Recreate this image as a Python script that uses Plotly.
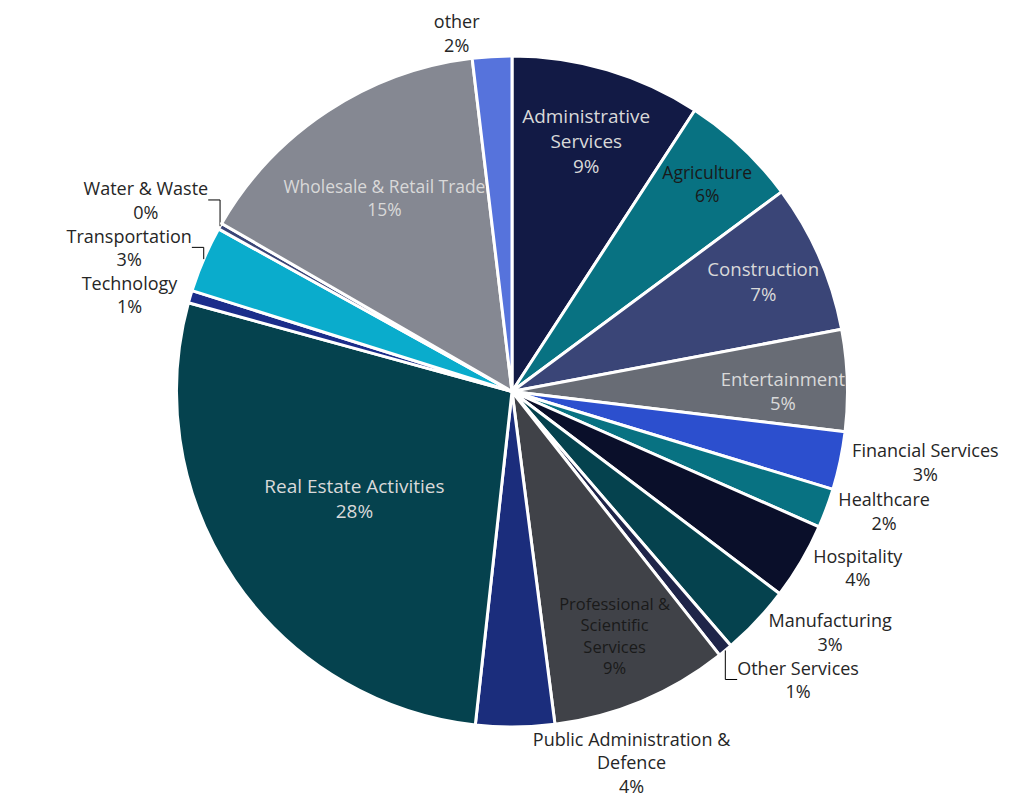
import plotly.graph_objects as go

categories = [
    "Administrative Services", "Agriculture", "Construction", "Entertainment",
    "Financial Services", "Healthcare", "Hospitality", "Manufacturing",
    "Other Services", "Professional & Scientific Services",
    "Public Administration & Defence", "Real Estate Activities", "Technology",
    "Transportation", "Water & Waste", "Wholesale & Retail Trade", "other",
]
display_labels = [
    "Administrative<br>Services", "Agriculture", "Construction", "Entertainment",
    "Financial Services", "Healthcare", "Hospitality", "Manufacturing",
    "Other Services", "Professional &<br>Scientific<br>Services",
    "Public Administration &<br>Defence", "Real Estate Activities", "Technology",
    "Transportation", "Water & Waste", "Wholesale & Retail Trade", "other",
]
values = [9.2, 5.7, 7.2, 4.9, 2.8, 1.9, 3.7, 3.4, 0.7, 8.6, 3.8, 27.6, 0.6, 3.2, 0.3, 14.8, 1.9]

colors = [
    "#121a45", "#087282", "#3a4577", "#686c75", "#2c4fce", "#087282", "#0a0f2a",
    "#05424e", "#1f2549", "#404248", "#1b2d7c", "#05424e", "#1b2d8a", "#0aaccc",
    "#3a4577", "#858892", "#5673dc",
]
positions = [
    "inside", "inside", "inside", "inside", "outside", "outside", "outside",
    "outside", "outside", "inside", "outside", "inside", "outside", "outside",
    "outside", "inside", "outside",
]
text_colors = [
    "#d9d9d9", "#1a1a1a", "#d9d9d9", "#d9d9d9", "#262626", "#262626", "#262626",
    "#262626", "#262626", "#1a1a1a", "#262626", "#d9d9d9", "#262626", "#262626",
    "#262626", "#d9d9d9", "#262626",
]
text_sizes = [19 if p == "inside" else 18 for p in positions]

fig = go.Figure(go.Pie(
    labels=categories,
    values=values,
    text=display_labels,
    texttemplate="%{text}<br>%{percent:.0%}",
    textposition=positions,
    textfont=dict(family="Open Sans", size=text_sizes, color=text_colors),
    insidetextorientation="horizontal",
    marker=dict(colors=colors, line=dict(color="white", width=3)),
    sort=False,
    direction="clockwise",
    rotation=0,
    showlegend=False,
    hoverinfo="label+percent",
    automargin=False,
))

fig.update_layout(
    width=1034, height=797,
    margin=dict(l=0, r=26, t=48, b=78),
    paper_bgcolor="white",
    plot_bgcolor="white",
    font=dict(family="Open Sans", size=18, color="#262626"),
)

fig.write_html("out.html")
